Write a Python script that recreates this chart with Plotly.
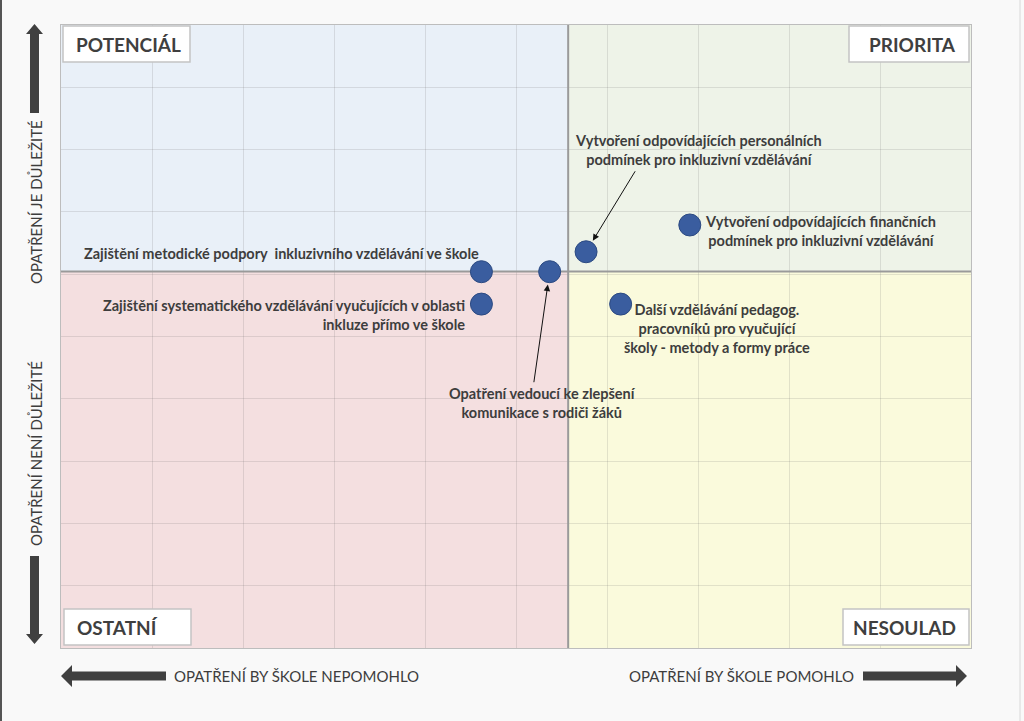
import plotly.graph_objects as go

# ---- data ----
names = [
    "Zajištění metodické podpory  inkluzivního vzdělávání ve škole",
    "Zajištění systematického vzdělávání vyučujících v oblasti<br>inkluze přímo ve škole",
    "Opatření vedoucí ke zlepšení<br>komunikace s rodiči žáků",
    "Vytvoření odpovídajících personálních<br>podmínek pro inkluzivní vzdělávání",
    "Vytvoření odpovídajících finančních<br>podmínek pro inkluzivní vzdělávání",
    "Další vzdělávání pedagog.<br>pracovníků pro vyučující<br>školy - metody a formy práce",
]
pomoc = [4.62, 4.62, 5.37, 5.77, 6.91, 6.15]       # x: would help the school
dulezitost = [6.04, 5.52, 6.04, 6.36, 6.79, 5.52]  # y: importance
quadrants = ["POTENCIÁL", "PRIORITA", "OSTATNÍ", "NESOULAD"]
x_titles = ["OPATŘENÍ BY ŠKOLE NEPOMOHLO", "OPATŘENÍ BY ŠKOLE POMOHLO"]
y_titles = ["OPATŘENÍ JE DŮLEŽITÉ", "OPATŘENÍ NENÍ DŮLEŽITÉ"]

xmid = sum(pomoc) / len(pomoc)
ymid = sum(dulezitost) / len(dulezitost)

W, H = 1024, 721
L, R, T, B = 61, 971, 25, 648
FONT = "Lato"
TXT = "#3d3d3d"


def px(xp):
    return (xp - L) / (R - L)


def py(yp):
    return (B - yp) / (B - T)


fig = go.Figure()
fig.add_trace(go.Scatter(
    x=pomoc, y=dulezitost, mode="markers",
    marker=dict(size=22, color="#3a5d9f", line=dict(color="#2c4a82", width=1)),
    hoverinfo="skip", showlegend=False,
))

shapes = []
# quadrant backgrounds
shapes += [
    dict(type="rect", xref="x", yref="y", x0=0, x1=xmid, y0=ymid, y1=10,
         fillcolor="#e9f0f8", line_width=0, layer="below"),
    dict(type="rect", xref="x", yref="y", x0=xmid, x1=10, y0=ymid, y1=10,
         fillcolor="#eef3e8", line_width=0, layer="below"),
    dict(type="rect", xref="x", yref="y", x0=0, x1=xmid, y0=0, y1=ymid,
         fillcolor="#f4dfe0", line_width=0, layer="below"),
    dict(type="rect", xref="x", yref="y", x0=xmid, x1=10, y0=0, y1=ymid,
         fillcolor="#fafadc", line_width=0, layer="below"),
]
# dividers
shapes += [
    dict(type="line", xref="x", yref="y", x0=xmid, x1=xmid, y0=0, y1=10,
         line=dict(color="#9a9a9a", width=2), layer="between"),
    dict(type="line", xref="x", yref="y", x0=0, x1=10, y0=ymid, y1=ymid,
         line=dict(color="#9a9a9a", width=2), layer="between"),
]


def poly(pts):
    d = "M " + " L ".join(f"{px(a):.5f},{py(b):.5f}" for a, b in pts) + " Z"
    return dict(type="path", xref="paper", yref="paper", path=d,
                fillcolor="#404040", line_width=0)


# axis arrows
shapes.append(poly([(61, 676), (72, 665), (72, 671.5), (166, 671.5), (166, 680.5), (72, 680.5), (72, 687)]))
shapes.append(poly([(967, 676), (956, 665), (956, 671.5), (863, 671.5), (863, 680.5), (956, 680.5), (956, 687)]))
shapes.append(poly([(34.5, 24), (26, 34), (30, 34), (30, 113), (39, 113), (39, 34), (43, 34)]))
shapes.append(poly([(34.5, 644), (26, 634), (30, 634), (30, 556), (39, 556), (39, 634), (43, 634)]))
# page edges
shapes.append(dict(type="line", xref="paper", yref="paper", x0=px(1), x1=px(1), y0=py(0), y1=py(721),
                   line=dict(color="#555555", width=2)))
shapes.append(dict(type="line", xref="paper", yref="paper", x0=px(1020), x1=px(1020), y0=py(0), y1=py(721),
                   line=dict(color="#d8d8d8", width=1)))

ann = []
# quadrant label boxes + texts
qbox = [(63, 26, 190, 62), (849, 26, 969, 62), (64, 609, 191, 645), (843, 609, 969, 645)]
qtext = [(74, 44, "left"), (958, 44, "right"), (75, 627, "left"), (958, 627, "right")]
for q, (x0, y0, x1, y1), (tx, ty, side) in zip(quadrants, qbox, qtext):
    shapes.append(dict(type="rect", xref="paper", yref="paper",
                       x0=px(x0), x1=px(x1), y0=py(y1), y1=py(y0),
                       fillcolor="#ffffff", line=dict(color="#c4c4c4", width=1.5)))
    ann.append(dict(text="<b>" + q + "</b>", xref="paper", yref="paper",
                    x=px(tx), y=py(ty), xanchor=side, yanchor="middle",
                    showarrow=False, font=dict(family=FONT, size=19, color="#3f3f3f")))

# axis titles
tfont = dict(family=FONT, size=15, color=TXT)
ann.append(dict(text=x_titles[0], xref="paper", yref="paper", x=px(296), y=py(676),
                xanchor="center", yanchor="middle", showarrow=False, font=tfont))
ann.append(dict(text=x_titles[1], xref="paper", yref="paper", x=px(741), y=py(676),
                xanchor="center", yanchor="middle", showarrow=False, font=tfont))
ann.append(dict(text=y_titles[0], xref="paper", yref="paper", x=px(36), y=py(202),
                xanchor="center", yanchor="middle", showarrow=False, textangle=-90, font=tfont))
ann.append(dict(text=y_titles[1], xref="paper", yref="paper", x=px(36), y=py(454),
                xanchor="center", yanchor="middle", showarrow=False, textangle=-90, font=tfont))

# point labels: (xanchor, align, xshift, yshift)
lab = [
    ("right", "right", 0, 18),
    ("right", "right", -14, -11),
    ("center", "center", -7, -131),
    ("center", "center", 112, 102),
    ("left", "center", 13, -6),
    ("center", "center", 96, -24),
]
for n, xv, yv, (xa, al, xs, ys) in zip(names, pomoc, dulezitost, lab):
    ann.append(dict(text=n, x=xv, y=yv, xref="x", yref="y", xanchor=xa, yanchor="middle",
                    align=al, xshift=xs, yshift=ys, showarrow=False,
                    font=dict(family=FONT, size=14.5, color=TXT, weight=700)))

# leader arrows
for i, (axp, ayp) in [(2, (-16, 112)), (3, (50, -82))]:
    ann.append(dict(text="", x=pomoc[i], y=dulezitost[i], xref="x", yref="y",
                    showarrow=True, ax=axp, ay=ayp, arrowhead=2, arrowsize=1.3,
                    arrowwidth=1, arrowcolor="#111111", standoff=13))

fig.update_layout(
    width=W, height=H, autosize=False,
    margin=dict(l=L, r=W - R, t=T, b=H - B),
    paper_bgcolor="#f9f9f9", plot_bgcolor="#f9f9f9",
    shapes=shapes, annotations=ann,
    xaxis=dict(range=[0, 10], dtick=1, tick0=0, showticklabels=False, ticks="",
               showgrid=True, gridcolor="rgba(110,110,110,0.18)", gridwidth=1,
               zeroline=False, showline=True, linecolor="#bdbdbd", mirror=True, fixedrange=True),
    yaxis=dict(range=[0, 10], dtick=1, tick0=0, showticklabels=False, ticks="",
               showgrid=True, gridcolor="rgba(110,110,110,0.18)", gridwidth=1,
               zeroline=False, showline=True, linecolor="#bdbdbd", mirror=True, fixedrange=True),
    font=dict(family=FONT, color=TXT),
)

fig.write_html("out.html", config={"displayModeBar": False},
               post_script="document.body.style.margin='0';")
